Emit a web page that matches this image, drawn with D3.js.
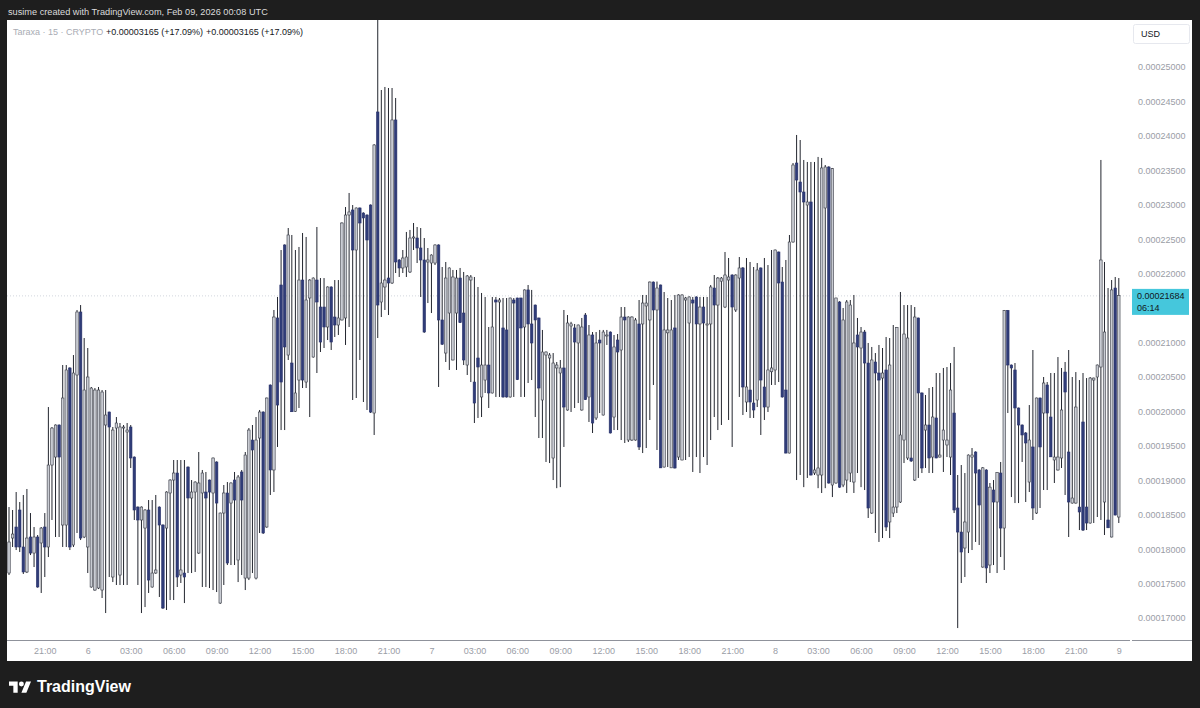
<!DOCTYPE html>
<html><head><meta charset="utf-8">
<script src="https://cdn.jsdelivr.net/npm/d3@7/dist/d3.min.js"></script>
<style>
html,body{margin:0;padding:0;background:#1e1e1e;}
svg{display:block;}
text{font-family:"Liberation Sans",Arial,sans-serif;}
</style></head><body>
<svg id="c" width="1200" height="708"></svg>
<script>
// Taraxa 15-minute candles, prices in units of 1e-8 USD
const PRICE_UNIT = 1e-8;
const firstBar = Date.UTC(2026, 1, 5, 18, 30);
const barMinutes = 15;

const open = [
17653,18161,18321,18568,18031,17668,18176,17943,18176,18089,
18321,18031,19221,19337,19802,18350,18350,20630,18060,20528,
21443,18176,18031,17450,17406,17435,17406,19802,19991,17595,
19758,17624,19758,19700,19773,19337,18611,18423,18306,18568,
17450,17653,18611,18350,18306,18815,19003,19105,17624,17653,
19192,18742,18829,17943,18815,18829,19003,18815,19265,17217,
18524,18815,18669,19003,17842,19120,17580,17580,19584,17580,
19613,19991,18321,20383,19149,21356,21835,22416,20818,20702,
20000,20455,21907,20426,21646,20789,21907,21515,21515,21225,
21806,21370,21254,21327,21356,22851,22924,22343,22953,22880,
22851,22996,19976,24347,21588,21806,21936,21864,24231,22198,
22082,22096,22024,22517,22517,22372,22198,22169,22154,22154,
22416,21327,20847,21428,20746,21428,21936,21428,20673,21907,
20426,20775,20209,20455,20673,20267,21617,21588,21211,21182,
20209,21617,21646,21646,21225,21763,21269,21544,21356,20165,
20818,20775,19323,20630,20557,20630,20020,21240,21211,20993,
20020,21399,20209,21109,19904,21036,19947,21100,21152,19918,
21036,20891,21370,19584,19584,19584,21269,21269,21530,21327,
21878,21472,21835,19192,21140,19180,21211,19337,19294,21617,
21283,21617,21661,21269,21515,21254,21269,21791,21544,21890,
21515,21907,21980,21472,21936,22082,20136,20310,20121,20165,
22082,20354,20063,20575,20601,22314,21878,20310,19395,22459,
23606,23330,23185,22996,23040,19105,19076,19076,22953,23548,
18931,18960,21588,18931,19003,19105,18974,21109,20920,21152,
20702,18524,20717,20557,20484,20601,18394,18524,18611,18684,
19584,19323,19323,19003,21356,20267,19729,19802,19337,19904,
19337,19584,19512,19337,19976,18597,18248,18016,18248,19337,
19410,19149,17740,19149,17769,18858,18684,19105,18306,21465,
20673,20601,20049,19802,19686,18974,19483,18524,20194,19976,
20383,19918,19294,19149,19323,20571,19410,18669,18669,18611,
19846,18611,18379,20455,20499,20644,18684,18423,18176,21791,
18466];

const high = [
18611,18568,18829,18684,18786,18873,18524,18321,18205,18321,
18524,20063,19773,19810,19810,20673,20673,20640,20818,21472,
21544,21065,20920,20354,20339,20354,20310,20310,19995,19773,
19918,19831,19802,19831,19802,19345,18620,18620,18580,18713,
18713,18786,18620,18360,18840,19015,19294,19294,19294,19294,
19200,19003,18985,19410,19149,19120,19010,19330,19275,18530,
18931,18974,18970,19120,19076,19149,19410,19758,19802,19918,
20020,20000,20200,20390,21472,21661,22343,22425,22662,22561,
22343,22387,22590,22532,21920,21945,22677,21936,21936,21815,
21815,21907,21907,22745,22967,23171,22996,22960,22960,22890,
22860,23005,23880,25750,24666,24710,24695,24695,24550,22210,
22343,22605,22634,22735,22677,22662,22517,22372,22280,22425,
22425,22096,22169,22090,22053,22053,22082,22024,21980,21980,
21951,21806,21719,21661,21225,21661,21661,21646,21646,21646,
21650,21646,21650,21650,21770,21835,21763,21550,21360,21182,
20870,20847,20847,20717,20746,21472,21399,21300,21269,21260,
21356,21428,21254,21152,21152,21182,21182,21182,21160,21109,
21123,21515,21515,21380,21380,21356,21617,21690,21690,21885,
21885,21885,21840,21733,21646,21617,21690,21700,21700,21661,
21670,21661,21670,21661,21661,21661,21835,21980,21951,21951,
22314,22227,21990,21990,22241,22096,22227,22169,22096,22154,
22090,22227,22125,22343,22350,22320,22096,22198,22561,23606,
24013,23940,23650,23621,23621,23621,23694,23679,23577,23560,
23534,21650,21600,21501,21617,21617,21690,21356,21225,21182,
20993,20935,20847,20964,20920,21080,21065,21254,21225,21733,
21544,21544,21544,21515,21360,20275,20238,20339,20354,20557,
20557,20630,20644,20702,20935,19076,19221,19105,19375,19468,
19420,19160,19192,19160,18960,19003,19120,19265,21472,21472,
20680,20702,20055,19810,19700,20092,20891,20200,20200,20499,
20426,20557,20557,20789,20630,20717,20891,20499,20571,20455,
20557,20484,20499,20490,20680,23650,22169,21791,21907,21951,
21936];

const low = [
17624,18031,17987,17958,17639,17653,17914,17740,17440,17363,
17595,17885,18423,18176,18176,18031,18031,17987,18031,18234,
18132,18160,17653,17440,17395,17420,17290,17072,17595,17522,
17479,17479,17479,17479,19178,18423,17479,17072,17159,17363,
17440,17640,17305,17130,17116,17261,17261,17450,17508,17217,
17653,17653,17668,17930,17450,17450,17435,17406,17377,17205,
17479,17769,17769,17769,17522,17624,17406,17551,17653,17560,
18234,18220,18310,18786,18829,19483,19729,19729,20746,19991,
19991,20049,20339,20339,19918,20780,20557,20862,20920,21036,
20891,21080,21109,21320,20964,21225,20165,20194,20746,20136,
20020,19976,19657,21065,21370,21472,21399,21850,22009,21951,
22009,21951,22009,22343,22154,21661,21140,21573,21428,22125,
20354,20964,20717,20601,20740,20601,21283,20673,20528,20426,
19831,19904,19918,20267,20049,20260,20209,20209,20200,20200,
20200,20209,20455,20209,20209,20412,20455,19918,19613,19613,
19265,19250,19003,18885,18900,19483,20010,19991,20049,20121,
20010,20165,19846,19686,19875,19976,19940,20964,19680,19729,
19729,19584,19541,19555,19570,19575,19439,19395,19468,19875,
20383,19439,19178,19185,19192,19178,19170,19294,19290,19294,
19337,19120,19337,19105,19337,19221,19584,19918,19729,19802,
21500,19875,19483,21443,20209,19947,19991,19904,19904,20063,
19657,19875,19991,20383,20383,20426,20200,19390,19390,22450,
19003,19076,18900,19033,19070,19076,18885,18815,18885,18950,
18756,18950,18890,18900,18815,18974,18815,19105,18900,18858,
18452,18510,18234,18104,18161,18263,18161,18466,18524,18670,
19250,19294,19265,18990,19033,19105,19178,19105,19105,19320,
19330,19120,19337,19076,18524,16854,17508,17595,17943,17987,
18104,18060,17730,17508,17653,17769,17653,17885,17697,19976,
18756,18669,18669,19265,18684,18829,18423,18510,18597,18858,
18858,19337,18960,19140,19178,18786,18176,18660,18660,18277,
18263,18277,18370,18379,18466,18423,18205,18306,18170,18490,
18379];

const close = [
18103,18219,18031,18031,17668,18161,17943,18176,17450,18306,
18031,19221,19758,19802,19337,20194,20601,18031,20557,21443,
18161,20310,20499,20339,20310,20310,20281,19947,19773,19729,
19831,19773,19773,19729,19323,18568,18423,18611,18568,17551,
17653,17697,18350,17145,18829,19003,19105,17595,17697,17595,
18742,18829,18974,18960,19105,18742,18829,19323,18669,18524,
18815,17798,18960,18713,19047,18713,19366,19729,19439,19584,
19991,18234,20194,19149,21370,20092,20426,20935,22561,19995,
20267,21907,20455,21617,21907,21936,21588,21007,21225,21806,
21007,21254,21356,22735,22851,22895,22343,22953,22735,22808,
22488,19990,23868,21544,21864,21907,21864,24231,22169,22082,
22227,22241,22517,22532,22372,22198,21152,22198,22270,22416,
21327,20975,21936,22082,21951,21936,21290,20746,21966,21951,
20121,20644,20673,20673,20267,21225,21588,21617,20209,20209,
21646,21573,20460,21211,21763,21269,20993,21327,20339,20862,
20862,20818,20702,20673,20630,20063,21283,21270,21007,21254,
21225,20170,21109,19831,20993,20993,21152,21109,19686,20935,
20862,21370,21327,21370,21370,21327,19483,21573,21573,21878,
21472,21791,19180,21182,21182,21182,19178,21690,21690,21646,
21661,21573,21269,21515,21283,21269,21806,21544,21936,21936,
21980,21951,21515,21980,22082,20354,20354,20136,20020,22053,
20455,20063,20601,20630,22343,21864,20209,19395,22459,23577,
23359,23185,23040,23040,19076,19149,19178,23534,23548,18960,
23525,21646,18900,21327,21588,21544,20993,20935,21152,20702,
18597,20746,20557,20455,20557,18321,20673,18611,21220,19657,
21123,21065,19280,21370,20267,19178,19802,19323,19918,19323,
19366,19729,19584,20310,18568,18248,17958,18394,19366,19366,
19105,18640,19180,17726,18900,18684,19115,18306,21465,20673,
20630,20049,19802,19657,19541,19584,18597,20194,19483,20412,
19976,19340,19337,19337,20020,20281,18684,18742,20063,18539,
18277,18379,20484,20484,20673,22198,21152,18310,21763,18495,
21684];

// 0.00021500 is hidden behind the last-price label in the reference
const priceTicks = [17000,17500,18000,18500,19000,19500,20000,20500,21000,22000,22500,23000,23500,24000,24500,25000];
const lastPrice = 21684;
const countdown = "06:14";
const symbolLabel = "Taraxa · 15 · CRYPTO";
const changeLabel = "+0.00003165 (+17.09%)";
const creditLabel = "susime created with TradingView.com, Feb 09, 2026 00:08 UTC";

const svg = d3.select("#c");
const pane = {left: 7, right: 1130, top: 20, bottom: 640};

const times = open.map((_, i) => new Date(firstBar + i * barMinutes * 60000));
const x = d3.scaleUtc().domain([times[0], times[times.length - 1]]).range([9, 1118.8]);
const y = d3.scaleLinear().domain([17000, 25000]).range([618, 67]);

// frame & panes
svg.append("rect").attr("width", 1200).attr("height", 708).attr("fill", "#1e1e1e");
svg.append("rect").attr("x", 7).attr("y", 20).attr("width", 1185).attr("height", 641).attr("fill", "#ffffff");

svg.append("text").attr("x", 8).attr("y", 14.5).attr("fill", "#dcdcdc")
  .attr("font-size", 9.2).text(creditLabel);

svg.append("defs").append("clipPath").attr("id", "clip")
  .append("rect").attr("x", pane.left).attr("y", pane.top)
  .attr("width", pane.right - pane.left).attr("height", pane.bottom - pane.top);

// current price line
svg.append("line").attr("x1", pane.left).attr("x2", pane.right)
  .attr("y1", y(lastPrice) + 0.5).attr("y2", y(lastPrice) + 0.5)
  .attr("stroke", "#d3d6dd").attr("stroke-dasharray", "1 2").attr("stroke-width", 1);

const g = svg.append("g").attr("clip-path", "url(#clip)");
const idx = d3.range(open.length);
const UP_FILL = "#c9ccd3", UP_STROKE = "#3a3d47";
const DN_FILL = "#2f3c78", DN_STROKE = "#28316b";

g.selectAll("line.wick").data(idx).join("line").attr("class", "wick")
  .attr("x1", i => x(times[i])).attr("x2", i => x(times[i]))
  .attr("y1", i => y(high[i])).attr("y2", i => y(low[i]))
  .attr("stroke", "#23262f").attr("stroke-width", 1);

g.selectAll("rect.body").data(idx).join("rect").attr("class", "body")
  .attr("x", i => x(times[i]) - 1.25).attr("width", 2.5)
  .attr("y", i => y(Math.max(open[i], close[i])))
  .attr("height", i => Math.max(1, Math.abs(y(open[i]) - y(close[i]))))
  .attr("fill", i => close[i] >= open[i] ? UP_FILL : DN_FILL)
  .attr("stroke", i => close[i] >= open[i] ? UP_STROKE : DN_STROKE)
  .attr("stroke-width", 0.6);

// header legend
const head = svg.append("text").attr("x", 13).attr("y", 35).attr("font-size", 9);
head.append("tspan").attr("fill", "#a9acb4").text(symbolLabel);
head.append("tspan").attr("x", 106).attr("fill", "#131722").text(changeLabel);
head.append("tspan").attr("x", 206).attr("fill", "#131722").text(changeLabel);

// time axis
svg.append("line").attr("x1", 7).attr("x2", 1130).attr("y1", 640.5).attr("y2", 640.5)
  .attr("stroke", "#8f929b").attr("stroke-width", 1);
svg.append("line").attr("x1", 1132).attr("x2", 1192).attr("y1", 640.5).attr("y2", 640.5)
  .attr("stroke", "#8f929b").attr("stroke-width", 1);
const tickTimes = d3.utcHour.every(3).range(new Date(Date.UTC(2026,1,5,19)), new Date(Date.UTC(2026,1,9,0,1)));
const fmt = d => d.getUTCHours() === 0 ? d3.utcFormat("%-d")(d) : d3.utcFormat("%H:%M")(d);
const xAxis = d3.axisBottom(x).tickValues(tickTimes).tickFormat(fmt).tickSize(0).tickPadding(0);
const xa = svg.append("g").attr("transform", "translate(0,651)").call(xAxis);
xa.select(".domain").remove();
xa.selectAll("text").attr("fill", "#9a9da6").attr("font-size", 9)
  .attr("dy", "0.35em").attr("font-family", "Liberation Sans, Arial, sans-serif");

// price axis
const yAxis = d3.axisRight(y).tickValues(priceTicks)
  .tickFormat(v => (v * PRICE_UNIT).toFixed(8)).tickSize(0).tickPadding(0);
const ya = svg.append("g").attr("transform", "translate(1138,0)").call(yAxis);
ya.select(".domain").remove();
ya.selectAll("text").attr("fill", "#9a9da6").attr("font-size", 9)
  .attr("font-family", "Liberation Sans, Arial, sans-serif");

// USD box
svg.append("rect").attr("x", 1133.5).attr("y", 24.5).attr("width", 56).attr("height", 19)
  .attr("rx", 2).attr("fill", "#ffffff").attr("stroke", "#e6e8ee");
svg.append("text").attr("x", 1141).attr("y", 37).attr("font-size", 9).attr("fill", "#131722").text("USD");

// last price label
const ly = y(lastPrice);
svg.append("rect").attr("x", 1132).attr("y", ly - 6.5).attr("width", 57).attr("height", 26)
  .attr("fill", "#45c7dc");
svg.append("text").attr("x", 1137).attr("y", ly + 3.5).attr("font-size", 9).attr("fill", "#131722")
  .text((lastPrice * PRICE_UNIT).toFixed(8));
svg.append("text").attr("x", 1137).attr("y", ly + 15.5).attr("font-size", 9).attr("fill", "#131722")
  .text(countdown);

// TradingView logo
const logo = svg.append("g").attr("transform", "translate(9,679) scale(0.62)").attr("fill", "#ffffff");
logo.append("path").attr("d", "M14 22H7V11H0V4h14v18zM28 22h-8l7.5-18h8L28 22z");
logo.append("circle").attr("cx", 20).attr("cy", 8).attr("r", 4);
svg.append("text").attr("x", 37).attr("y", 692).attr("font-size", 16).attr("font-weight", 700)
  .attr("fill", "#ffffff").text("TradingView");
</script>
</body></html>
